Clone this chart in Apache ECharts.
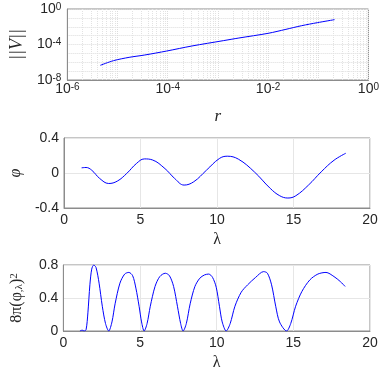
<!DOCTYPE html>
<html>
<head>
<meta charset="utf-8">
<script src="https://cdn.jsdelivr.net/npm/echarts@6/dist/echarts.min.js"></script>
<style>
  html, body { margin: 0; padding: 0; background: #fff; }
  #chart { width: 382px; height: 372px; }
</style>
</head>
<body>
<div id="chart"></div>
<script>
// top panel: ||V|| against r (log-log)
var rVals = [4.53e-6, 8.3e-6, 1.7e-5, 3.5e-5, 9.57e-5, 3.03e-4, 1.28e-3, 2.62e-3, 1.0e-2, 2.27e-2, 4.67e-2, 9.57e-2, 0.211];
var normV = [4.5e-7, 1.51e-6, 3.58e-6, 6.56e-6, 1.85e-5, 6.78e-5, 2.7e-4, 5.4e-4, 1.81e-3, 5.12e-3, 1.32e-2, 2.88e-2, 6.28e-2];

// middle panel: phi against lambda
var lamPhi = [1.15, 1.44, 1.81, 2.33, 2.92, 3.48, 4.10, 4.73, 5.25, 5.77, 6.6, 7.23, 7.85, 8.48, 9.31, 10.15, 10.67, 11.4, 12.44, 13.48, 14.1, 14.63, 15.15, 15.98, 16.81, 17.65, 18.42];
var phiVals = [0.059, 0.063, 0.032, -0.062, -0.12, -0.093, -0.005, 0.108, 0.161, 0.15, 0.05, -0.062, -0.138, -0.10, 0.032, 0.165, 0.192, 0.158, 0.013, -0.176, -0.26, -0.286, -0.26, -0.138, 0.013, 0.146, 0.226];

// bottom panel: 8*pi*(phi_lambda)^2 against lambda
var lamDer = [1.08, 1.23, 1.35, 1.48, 1.60, 1.73, 1.85, 1.98, 2.13, 2.33, 2.54, 2.75, 2.96, 3.17, 3.375, 3.69, 4.0, 4.27, 4.52, 4.73, 4.94, 5.10, 5.27, 5.46, 5.67, 5.98, 6.29, 6.65, 6.92, 7.19, 7.44, 7.65, 7.81, 8.02, 8.27, 8.58, 8.9, 9.21, 9.48, 9.73, 9.97, 10.18, 10.36, 10.62, 10.88, 11.19, 11.6, 12.02, 12.54, 13.06, 13.31, 13.58, 13.85, 14.1, 14.56, 14.83, 15.15, 15.56, 16.08, 16.6, 17.13, 17.65, 18.06, 18.375];
var derVals = [0, 0.01, 0, 0.015, 0.22, 0.56, 0.75, 0.80, 0.77, 0.58, 0.30, 0.09, 0, 0.11, 0.33, 0.58, 0.69, 0.71, 0.67, 0.52, 0.30, 0.11, 0, 0.09, 0.30, 0.54, 0.66, 0.70, 0.67, 0.54, 0.30, 0.09, 0, 0.09, 0.33, 0.54, 0.64, 0.68, 0.69, 0.65, 0.53, 0.30, 0.11, 0, 0.09, 0.30, 0.47, 0.56, 0.65, 0.72, 0.70, 0.56, 0.30, 0.11, 0, 0.09, 0.30, 0.48, 0.62, 0.69, 0.71, 0.66, 0.60, 0.54];

// tick labels
var lamTicks = [0, 5, 10, 15, 20];
var phiTicks = [-0.4, 0, 0.4];
var derTicks = [0, 0.4, 0.8];

function zip(a, b) {
    var out = [];
    for (var i = 0; i < a.length; i++) out.push([a[i], b[i]]);
    return out;
}

var txt = '#262626';
var boxc = '#8c8c8c';
var sans = 'Liberation Sans';
var serif = 'Liberation Serif';

var powRich = {
    b: { fontSize: 14, lineHeight: 14, verticalAlign: 'bottom', color: txt, fontFamily: sans },
    s: { fontSize: 10, lineHeight: 10, verticalAlign: 'top', padding: [0, 0, 8, 0], color: txt, fontFamily: sans }
};
function powLabel(step) {
    return function (v) {
        var e = Math.round(Math.log10(v));
        if (e % step !== 0) return '';
        return '{b|10}{s|' + e + '}';
    };
}
function fmtNum(v) {
    if (Math.abs(v) < 1e-9) return '0';
    return String(Math.round(v * 10) / 10);
}

var chart = echarts.init(document.getElementById('chart'));
var baseGrid = { left: 51, width: 319, show: true, borderColor: boxc, borderWidth: 1, backgroundColor: '#fff' };

function linAxis(grid, min, max, interval, ticks) {
    return {
        type: 'value', gridIndex: grid, min: min, max: max, interval: interval,
        axisLine: { show: true, onZero: false, lineStyle: { color: boxc } },
        axisTick: { show: false },
        axisLabel: {
            color: txt, fontSize: 14, fontFamily: sans, margin: 5,
            formatter: function (v) {
                for (var i = 0; i < ticks.length; i++) if (Math.abs(ticks[i] - v) < 1e-9) return fmtNum(v);
                return '';
            }
        },
        splitLine: { show: true, lineStyle: { color: '#e6e6e6' } }
    };
}
var nameStyle = { color: txt, fontFamily: serif, fontSize: 16 };

var xLam1 = linAxis(1, 0, 20, 5, lamTicks);
xLam1.name = 'λ'; xLam1.nameLocation = 'middle'; xLam1.nameGap = 24; xLam1.nameTextStyle = nameStyle;
var xLam2 = linAxis(2, 0, 20, 5, lamTicks);
xLam2.name = 'λ'; xLam2.nameLocation = 'middle'; xLam2.nameGap = 24; xLam2.nameTextStyle = nameStyle;
var yPhi = linAxis(1, -0.4, 0.4, 0.4, phiTicks);
yPhi.name = 'φ'; yPhi.nameLocation = 'middle'; yPhi.nameGap = 36;
yPhi.nameTextStyle = { color: txt, fontFamily: serif, fontSize: 16, fontStyle: 'italic' };
var yDer = linAxis(2, 0, 0.8, 0.4, derTicks);
yDer.name = '8π(φ{sub|,λ}){sup|2}'; yDer.nameLocation = 'middle'; yDer.nameGap = 30;
yDer.nameTextStyle = {
    color: txt, fontFamily: serif, fontSize: 16,
    rich: {
        sub: { fontSize: 11, fontFamily: serif, color: txt, verticalAlign: 'bottom', lineHeight: 11, padding: [6, 0, 0, 0] },
        sup: { fontSize: 11, fontFamily: serif, color: txt, verticalAlign: 'top', lineHeight: 11, padding: [0, 0, 8, 0] }
    }
};

var option = {
    animation: false,
    backgroundColor: '#fff',
    grid: [
        Object.assign({ top: 9, height: 71 }, baseGrid),
        Object.assign({ top: 138, height: 70 }, baseGrid),
        Object.assign({ top: 265, height: 71 }, baseGrid)
    ],
    xAxis: [
        {
            type: 'log', gridIndex: 0, logBase: 10, min: 1e-6, max: 1, interval: 1,
            name: 'r', nameLocation: 'middle', nameGap: 28,
            nameTextStyle: { color: txt, fontFamily: serif, fontSize: 17, fontStyle: 'italic' },
            axisLine: { show: true, onZero: false, lineStyle: { color: boxc } },
            axisTick: { show: false },
            axisLabel: { margin: 2, formatter: powLabel(2), rich: powRich },
            splitLine: { show: true, lineStyle: { color: '#dcdcdc', type: 'dotted' } },
            minorTick: { show: false, splitNumber: 9 },
            minorSplitLine: { show: true, lineStyle: { color: '#e2e2e2', type: 'dotted' } }
        },
        xLam1,
        xLam2
    ],
    yAxis: [
        {
            type: 'log', gridIndex: 0, logBase: 10, min: 1e-8, max: 1, interval: 1,
            name: '||V||', nameLocation: 'middle', nameGap: 34,
            nameTextStyle: { color: txt, fontFamily: serif, fontSize: 18, fontStyle: 'italic' },
            axisLine: { show: true, onZero: false, lineStyle: { color: boxc } },
            axisTick: { show: false },
            axisLabel: { margin: 6, formatter: powLabel(4), rich: powRich },
            splitLine: { show: true, lineStyle: { color: '#dcdcdc', type: 'dotted' } }
        },
        yPhi,
        yDer
    ],
    series: [
        {
            type: 'line', xAxisIndex: 0, yAxisIndex: 0, data: zip(rVals, normV),
            showSymbol: false, smooth: 0.3, lineStyle: { color: '#0000ff', width: 1 }
        },
        {
            type: 'line', xAxisIndex: 1, yAxisIndex: 1, data: zip(lamPhi, phiVals),
            showSymbol: false, smooth: 0.4, lineStyle: { color: '#0000ff', width: 1 }
        },
        {
            type: 'line', xAxisIndex: 2, yAxisIndex: 2, data: zip(lamDer, derVals),
            showSymbol: false, smooth: 0.3, lineStyle: { color: '#0000ff', width: 1 }
        }
    ]
};
chart.setOption(option);
</script>
</body>
</html>
